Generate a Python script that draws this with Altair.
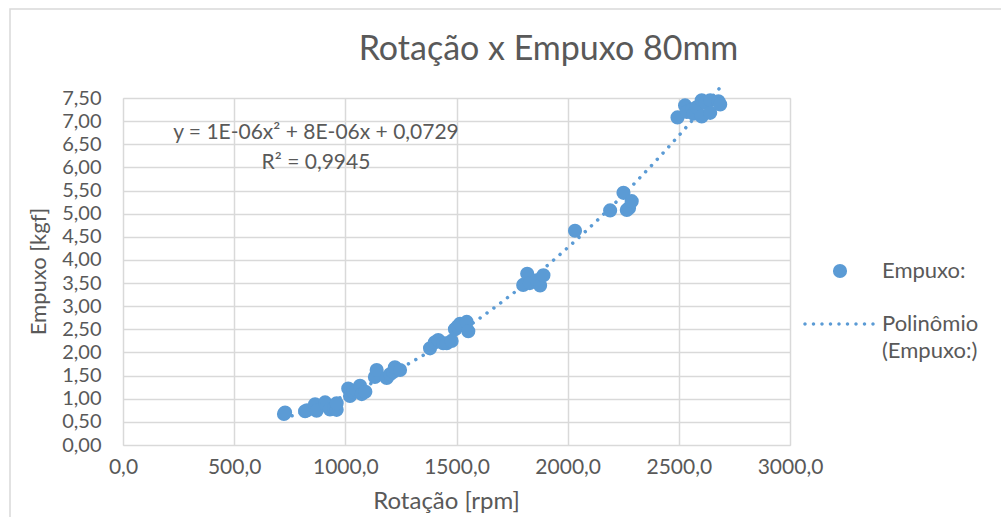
import altair as alt
import pandas as pd

rpm = [724, 729, 819, 828, 864, 871, 909, 917, 931, 950, 961, 961,
       1013, 1021, 1035, 1050, 1066, 1074, 1090,
       1133, 1141, 1186, 1201, 1215, 1223, 1246,
       1381, 1403, 1418, 1440, 1456, 1478,
       1493, 1505, 1516, 1546, 1553,
       1800, 1818, 1830, 1861, 1876, 1891,
       2033, 2191, 2251, 2266, 2276, 2288,
       2494, 2528, 2536, 2560, 2566, 2580, 2603, 2603, 2620, 2641, 2641, 2678, 2686]
kgf = [0.67, 0.70, 0.73, 0.75, 0.88, 0.74, 0.92, 0.85, 0.77, 0.80, 0.76, 0.90,
       1.22, 1.06, 1.15, 1.18, 1.28, 1.10, 1.15,
       1.47, 1.62, 1.45, 1.53, 1.58, 1.68, 1.62,
       2.09, 2.22, 2.27, 2.20, 2.20, 2.25,
       2.50, 2.56, 2.62, 2.66, 2.46,
       3.46, 3.70, 3.50, 3.56, 3.45, 3.67,
       4.63, 5.07, 5.45, 5.08, 5.12, 5.27,
       7.08, 7.34, 7.20, 7.25, 7.16, 7.30, 7.45, 7.10, 7.40, 7.45, 7.18, 7.43, 7.36]

eq_lines = ["y = 1E-06x² + 8E-06x + 0,0729", "R² = 0,9945"]
eq_x = [868, 868]
eq_y = [6.745, 6.10]

series_point = "Empuxo:"
series_line = "Polinômio (Empuxo:)"

df = pd.DataFrame({"rpm": rpm, "kgf": kgf})
eq_df = pd.DataFrame({"t": eq_lines, "x": eq_x, "y": eq_y})

FONT = "Lato"
TXT = "#595959"
BLUE = "#5B9BD5"
GRID = "#D9D9D9"

xscale = alt.Scale(domain=[0, 3000], nice=False)
yscale = alt.Scale(domain=[0, 7.5], nice=False)

xaxis = alt.Axis(values=[0, 500, 1000, 1500, 2000, 2500, 3000],
                 labelExpr="replace(format(datum.value, '.1f'), '.', ',')",
                 title="Rotação [rpm]", grid=True, gridColor=GRID, gridWidth=1.5,
                 domain=False, ticks=False, labelPadding=11, labelOverlap=False,
                 labelFlush=False,
                 labelFont=FONT, labelFontSize=21, labelColor=TXT,
                 titleFont=FONT, titleFontSize=24, titleColor=TXT, titleFontWeight="normal",
                 titleX=323, titleY=56, titleBaseline="middle")
yaxis = alt.Axis(values=[i * 0.5 for i in range(16)],
                 labelExpr="replace(format(datum.value, '.2f'), '.', ',')",
                 title="Empuxo [kgf]", grid=True, gridColor=GRID, gridWidth=1.5,
                 domain=False, ticks=False, labelPadding=22, labelOverlap=False,
                 labelFlush=False,
                 labelFont=FONT, labelFontSize=20, labelColor=TXT,
                 titleFont=FONT, titleFontSize=22, titleColor=TXT, titleFontWeight="normal",
                 titleX=-85, titleY=173, titleBaseline="middle", titleAngle=270)

X = alt.X("rpm:Q", scale=xscale, axis=xaxis)
Y = alt.Y("kgf:Q", scale=yscale, axis=yaxis)

dots = "".join(
    f"M {-1 + i*0.25 - 0.05:.3f},0 a 0.05,0.05 0 1,0 0.1,0 a 0.05,0.05 0 1,0 -0.1,0 "
    for i in range(9))

base = alt.Chart(df)

line = base.transform_regression("rpm", "kgf", method="poly", order=2).transform_calculate(
    s2=f"'{series_line}'"
).mark_line(color=BLUE, strokeWidth=3.5, strokeCap="round").encode(
    x=X, y=Y,
    strokeDash=alt.StrokeDash(
        "s2:N",
        scale=alt.Scale(domain=[series_line], range=[[0.01, 8.5]]),
        legend=alt.Legend(
            title=None, orient="none", legendX=682, legendY=192, padding=0,
            symbolType=dots, symbolSize=4624, symbolFillColor=BLUE,
            symbolStrokeWidth=0, labelOffset=9,
            labelFont=FONT, labelFontSize=22, labelColor=TXT,
            labelBaseline="middle", labelLimit=300,
            labelExpr="datum.label == 'Polinômio (Empuxo:)' ? ['Polinômio', '(Empuxo:)'] : datum.label",
        ),
    ),
)

points = base.transform_calculate(s1=f"'{series_point}'").mark_circle(
    size=200, opacity=1
).encode(
    x=X, y=Y,
    color=alt.Color(
        "s1:N",
        scale=alt.Scale(domain=[series_point], range=[BLUE]),
        legend=alt.Legend(
            title=None, orient="none", legendX=706, legendY=162, padding=0,
            symbolType="circle", symbolSize=200, symbolOpacity=1, labelOffset=31,
            labelFont=FONT, labelFontSize=22, labelColor=TXT, labelBaseline="middle",
        ),
    ),
)

eq = alt.Chart(eq_df).mark_text(font=FONT, fontSize=21, color=TXT, align="center",
                                baseline="middle").encode(
    x=alt.X("x:Q", scale=xscale, axis=xaxis), y=alt.Y("y:Q", scale=yscale, axis=yaxis),
    text="t:N")

frame = alt.Chart(eq_df.head(1)).mark_rect(fill=None, stroke=GRID, strokeWidth=1.5).encode(
    x=alt.value(-113), x2=alt.value(900), y=alt.value(-89), y2=alt.value(440))

chart = alt.layer(frame, line, points, eq).properties(
    width=667, height=347,
    title=alt.TitleParams("Rotação x Empuxo 80mm", font=FONT, fontSize=34, color=TXT,
                          fontWeight="normal", anchor="middle", dx=92, offset=-86,
                          baseline="alphabetic"),
    padding={"left": 123, "top": 98, "right": 211, "bottom": 72},
    autosize=alt.AutoSizeParams(type="none"),
).configure_view(stroke=None).configure(
    background="white", style={"guide-label": {"lineHeight": 27}})

chart.save("out.html", embed_options={"renderer": "svg", "actions": False})
